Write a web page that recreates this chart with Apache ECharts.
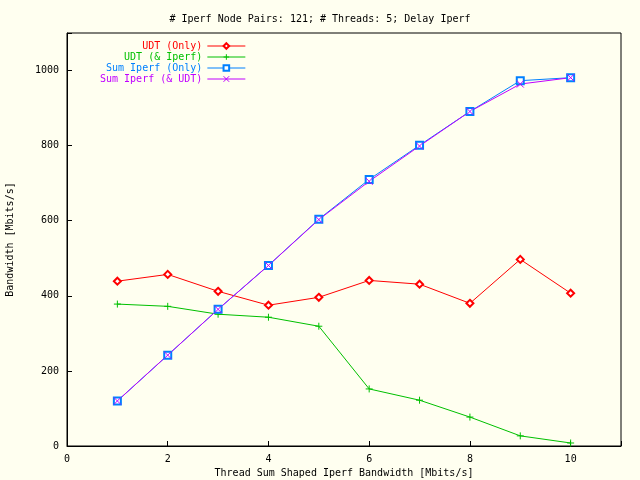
<!DOCTYPE html>
<html>
<head>
<meta charset="UTF-8">
<script src="https://cdn.jsdelivr.net/npm/echarts/dist/echarts.min.js"></script>
<style>
  html, body { margin: 0; background: #fffff0; }
  #chart { width: 640px; height: 480px; }
</style>
</head>
<body>
<div id="chart"></div>
<script>
  // x 值（Thread Sum Shaped Iperf Bandwidth）
  const xs = [1, 2, 3, 4, 5, 6, 7, 8, 9, 10];
  const udtOnly = [439, 457, 412, 375, 396, 441, 431, 380, 497, 407];
  const udtIperf = [378, 372, 351, 343, 319, 152, 122, 77, 27, 8];
  const sumIperfOnly = [120, 242, 364, 481, 604, 710, 801, 891, 973, 981];
  const sumIperfUdt = [120, 242, 364, 481, 603, 705, 799, 891, 964, 981];
  const names = ['UDT (Only)', 'UDT (& Iperf)', 'Sum Iperf (Only)', 'Sum Iperf (& UDT)'];
  const colors = ['#ff0000', '#00c000', '#0080ff', '#c000ff'];

  const plus = 'path://M5,0L5,10M0,5L10,5';
  const cross = 'path://M0,0L10,10M10,0L0,10';
  const font = 'DejaVu Sans Mono';

  function pts(arr) { return xs.map((x, i) => [x, arr[i]]); }
  function mk(i, data, symbol) {
    return {
      name: names[i], type: 'line', data: pts(data), symbol: symbol, symbolSize: 7,
      lineStyle: { color: colors[i], width: 1 },
      itemStyle: { color: colors[i], borderColor: colors[i], borderWidth: 1 },
      animation: false
    };
  }

  const chart = echarts.init(document.getElementById('chart'));
  chart.setOption({
    backgroundColor: '#fffff0',
    textStyle: { fontFamily: font },
    title: {
      text: '# Iperf Node Pairs: 121; # Threads: 5; Delay Iperf',
      left: 'center', top: 9,
      textStyle: { fontSize: 10, fontWeight: 'normal', fontFamily: font, color: '#000' }
    },
    legend: {
      left: 95, top: 36, orient: 'vertical', align: 'right', itemGap: 1,
      itemWidth: 38, itemHeight: 7,
      lineStyle: { width: 1 },
      itemStyle: { borderWidth: 1 },
      textStyle: { fontSize: 10, fontFamily: font },
      data: names.map((n, i) => ({ name: n, textStyle: { color: colors[i] } }))
    },
    grid: { left: 67, right: 19, top: 33, bottom: 34, containLabel: false,
      outerBoundsMode: 'none', show: true, borderColor: '#000', borderWidth: 1,
      backgroundColor: 'transparent' },
    xAxis: {
      type: 'value', min: 0, max: 11, interval: 2,
      name: 'Thread Sum Shaped Iperf Bandwidth [Mbits/s]', nameLocation: 'middle', nameGap: 20,
      nameTextStyle: { fontSize: 10, color: '#000' },
      axisLine: { lineStyle: { color: '#000' } },
      axisTick: { inside: true, lineStyle: { color: '#000' } },
      splitLine: { show: false },
      axisLabel: { fontSize: 10, color: '#000', formatter: v => v === 11 ? '' : v }
    },
    yAxis: {
      type: 'value', min: 0, max: 1100, interval: 200,
      name: 'Bandwidth [Mbits/s]', nameLocation: 'middle', nameGap: 52,
      nameTextStyle: { fontSize: 10, color: '#000' },
      axisLine: { lineStyle: { color: '#000' } },
      axisTick: { inside: true, lineStyle: { color: '#000' } },
      splitLine: { show: false },
      axisLabel: { fontSize: 10, color: '#000', formatter: v => v === 1100 ? '' : v }
    },
    series: [
      mk(0, udtOnly, 'emptyDiamond'),
      mk(1, udtIperf, plus),
      mk(2, sumIperfOnly, 'emptyRect'),
      mk(3, sumIperfUdt, cross)
    ]
  });
</script>
</body>
</html>
